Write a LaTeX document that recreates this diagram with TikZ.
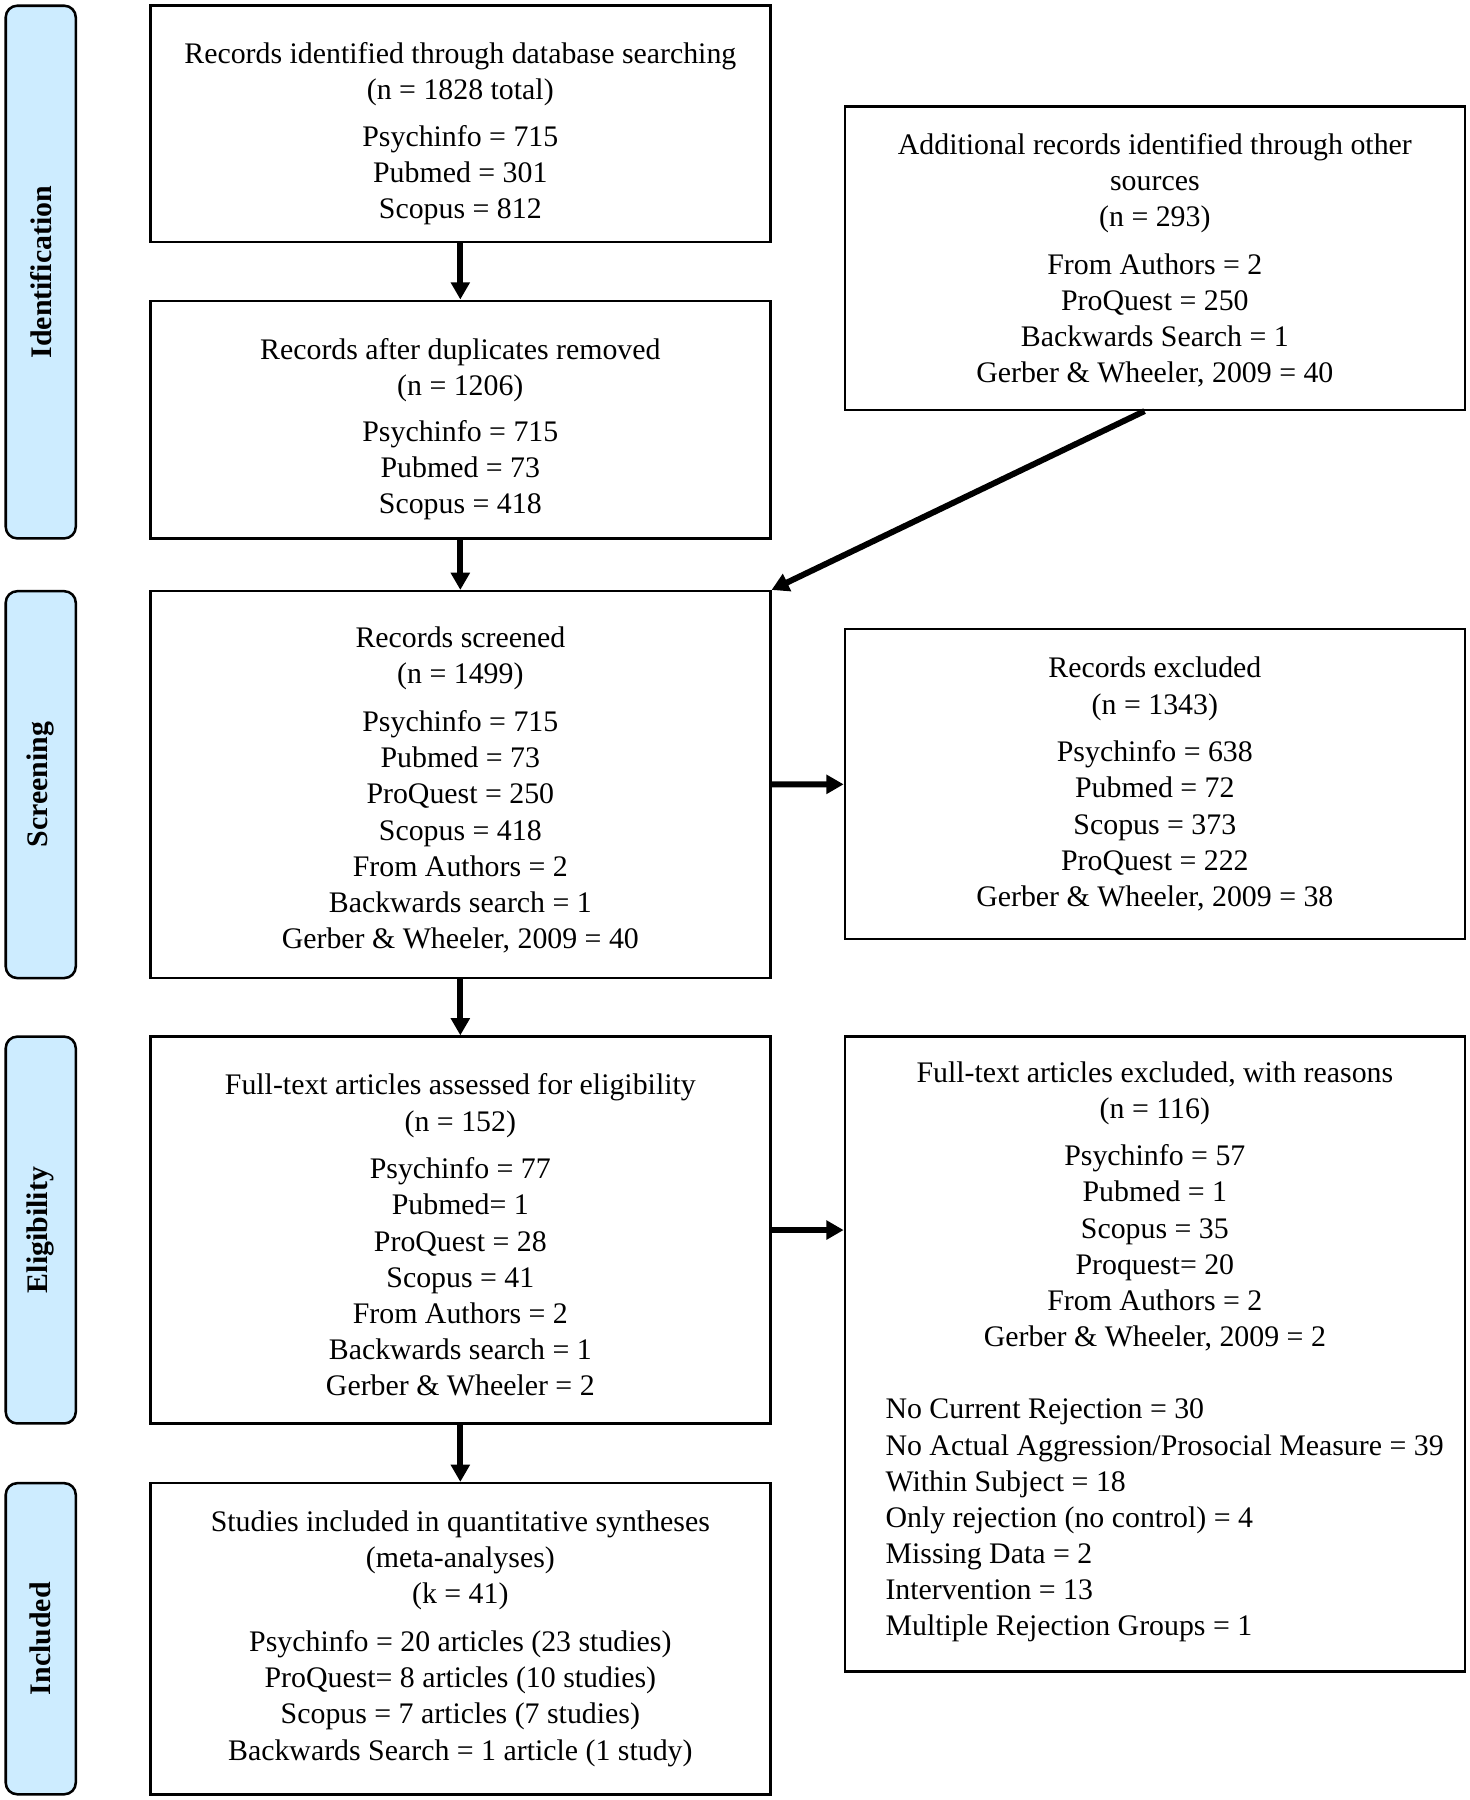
\documentclass[tikz,border=0pt]{standalone}
\usepackage{fontspec}
\setmainfont{Liberation Serif}
\usetikzlibrary{arrows.meta}
\definecolor{stagefill}{RGB}{205,236,255}
\newcommand{\pushdown}[1]{\rule{0pt}{#1}}
\begin{document}
\begin{tikzpicture}[x=0.5pt,y=-0.5pt,
  box/.style={draw=black, line width=1.1pt, minimum width=270pt, inner sep=0pt, align=center,
    font=\fontsize{13pt}{15.75pt}\selectfont},
  stage/.style={draw=black, line width=1.1pt, fill=stagefill, rounded corners=5pt, minimum width=30.5pt,
    inner sep=0pt, font=\bfseries\fontsize{13pt}{15pt}\selectfont},
  arr/.style={line width=2.6pt, -{Triangle[length=7.5pt,width=8pt]}}]
\useasboundingbox (0,0) rectangle (1280,1568);

% stage labels
\node[stage, minimum height=232pt] (sId) at (35.5,237) {\rotatebox{90}{Identification}};
\node[stage, minimum height=168.5pt] (sSc) at (35.5,683.5) {\rotatebox{90}{Screening}};
\node[stage, minimum height=168.5pt] (sEl) at (35.5,1071.5) {\rotatebox{90}{Eligibility}};
\node[stage, minimum height=135.5pt] (sIn) at (35.5,1427.5) {\rotatebox{90}{Included}};

% main column
\node[box, minimum height=103pt] (A) at (401,108) {\pushdown{17.5pt}Records identified through database searching\\ (n = 1828 total)\\[4.5pt]
Psychinfo = 715\\ Pubmed = 301\\ Scopus = 812};
\node[box, minimum height=103.5pt] (B) at (401,365.5) {\pushdown{17.5pt}Records after duplicates removed\\ (n = 1206)\\[4.5pt]
Psychinfo = 715\\ Pubmed = 73\\ Scopus = 418};
\node[box, minimum height=168.5pt] (C) at (401,683.5) {\pushdown{13.8pt}Records screened\\ (n = 1499)\\[5pt]
Psychinfo = 715\\ Pubmed = 73\\ ProQuest = 250\\ Scopus = 418\\ From Authors = 2\\ Backwards search = 1\\ Gerber \& Wheeler, 2009 = 40};
\node[box, minimum height=168.5pt] (D) at (401,1071.5) {\pushdown{13.5pt}Full-text articles assessed for eligibility\\ (n = 152)\\[5pt]
Psychinfo = 77\\ Pubmed= 1\\ ProQuest = 28\\ Scopus = 41\\ From Authors = 2\\ Backwards search = 1\\ Gerber \& Wheeler = 2};
\node[box, minimum height=135.5pt] (E) at (401,1427.5) {Studies included in quantitative syntheses\\ (meta-analyses)\\ (k = 41)\\[5pt]
Psychinfo = 20 articles (23 studies)\\ ProQuest= 8 articles (10 studies)\\ Scopus = 7 articles (7 studies)\\ Backwards Search = 1 article (1 study)};

% right column
\node[box, minimum height=132pt] (R1) at (1006,225) {\pushdown{11pt}Additional records identified through other\\ sources\\ (n = 293)\\[5pt]
From Authors = 2\\ ProQuest = 250\\ Backwards Search = 1\\ Gerber \& Wheeler, 2009 = 40};
\node[box, minimum height=135pt] (R2) at (1006,683) {Records excluded\\ (n = 1343)\\[5pt]
Psychinfo = 638\\ Pubmed = 72\\ Scopus = 373\\ ProQuest = 222\\ Gerber \& Wheeler, 2009 = 38};
\node[box, minimum height=276.5pt] (R3) at (1006,1179.5) {Full-text articles excluded, with reasons\\ (n = 116)\\[5pt]
Psychinfo = 57\\ Pubmed = 1\\ Scopus = 35\\ Proquest= 20\\ From Authors = 2\\ Gerber \& Wheeler, 2009 = 2\\[15.75pt]
\hspace*{8.5pt}\begin{tabular}[t]{@{}l@{}}No Current Rejection = 30\\ No Actual Aggression/Prosocial Measure = 39\\ Within Subject = 18\\ Only rejection (no control) = 4\\ Missing Data = 2\\ Intervention = 13\\ Multiple Rejection Groups = 1\end{tabular}};

% connectors
\draw[arr] (A) -- (B);
\draw[arr] (B) -- (C);
\draw[arr] (C) -- (D);
\draw[arr] (D) -- (E);
\draw[arr] (C) -- (R2);
\draw[arr] (D.east) -- (R3.west |- D.east);
\draw[arr] ([xshift=-4.5pt]R1.south) -- (C.north east);
\end{tikzpicture}
\end{document}
